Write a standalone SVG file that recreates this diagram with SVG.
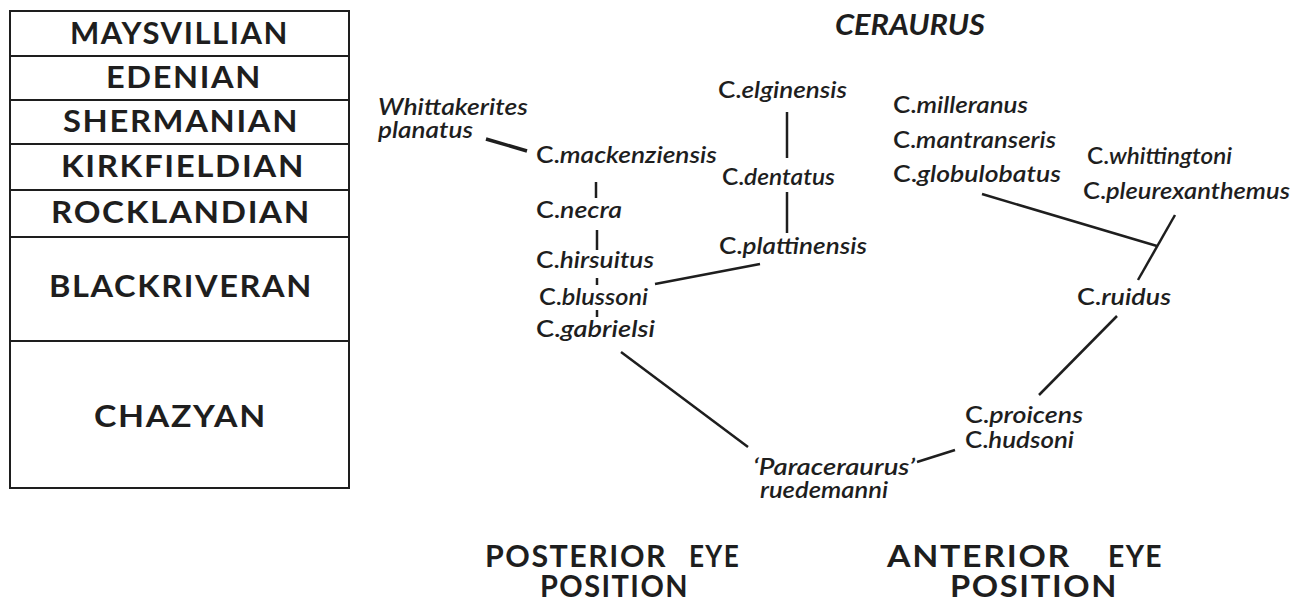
<svg xmlns="http://www.w3.org/2000/svg" width="1305" height="603" viewBox="0 0 1305 603">
<style>
  .cap { font-family: Lato, "Liberation Sans", sans-serif; font-weight: 700; font-size: 30px; letter-spacing: 1.5px; fill: #1e1e1e; }
  .title { font-family: Lato, "Liberation Sans", sans-serif; font-weight: 700; font-style: italic; font-size: 29px; fill: #1e1e1e; }
  .lbl { font-family: Lato, "Liberation Sans", sans-serif; font-weight: 600; font-size: 22px; fill: #1e1e1e; }
  .it { font-style: italic; }
  .ln { stroke: #1e1e1e; stroke-width: 2.5; stroke-linecap: butt; fill: none; }
  .tbl { stroke: #1e1e1e; stroke-width: 2; fill: none; }
</style>
<rect width="1305" height="603" fill="#ffffff"/>

<g id="stages">
  <rect class="tbl" x="10" y="11" width="339" height="477"/>
  <line class="tbl" x1="10" y1="56" x2="349" y2="56"/>
  <line class="tbl" x1="10" y1="100" x2="349" y2="100"/>
  <line class="tbl" x1="10" y1="144" x2="349" y2="144"/>
  <line class="tbl" x1="10" y1="190" x2="349" y2="190"/>
  <line class="tbl" x1="10" y1="237" x2="349" y2="237"/>
  <line class="tbl" x1="10" y1="341" x2="349" y2="341"/>
  <text class="cap" x="70" y="44" textLength="219" lengthAdjust="spacingAndGlyphs">MAYSVILLIAN</text>
  <text class="cap" x="106" y="88" textLength="156" lengthAdjust="spacingAndGlyphs">EDENIAN</text>
  <text class="cap" x="63" y="132" textLength="236" lengthAdjust="spacingAndGlyphs">SHERMANIAN</text>
  <text class="cap" x="61" y="177" textLength="244" lengthAdjust="spacingAndGlyphs">KIRKFIELDIAN</text>
  <text class="cap" x="51" y="223" textLength="260" lengthAdjust="spacingAndGlyphs">ROCKLANDIAN</text>
  <text class="cap" x="49" y="297" textLength="264" lengthAdjust="spacingAndGlyphs">BLACKRIVERAN</text>
  <text class="cap" x="94" y="427" textLength="173" lengthAdjust="spacingAndGlyphs">CHAZYAN</text>
</g>

<g id="title">
  <text class="title" x="835" y="35" textLength="150" lengthAdjust="spacingAndGlyphs">CERAURUS</text>
</g>

<g id="connectors">
  <line class="ln" x1="486" y1="139" x2="527" y2="151" style="stroke-width:3.5"/>
  <line class="ln" x1="596" y1="182" x2="596" y2="198"/>
  <line class="ln" x1="597" y1="230" x2="597" y2="250"/>
  <line class="ln" x1="597" y1="278" x2="597" y2="285"/>
  <line class="ln" x1="597" y1="310" x2="597" y2="317"/>
  <line class="ln" x1="655" y1="284" x2="760" y2="264"/>
  <line class="ln" x1="787" y1="112" x2="787" y2="158"/>
  <line class="ln" x1="787" y1="192" x2="787" y2="233"/>
  <line class="ln" x1="621" y1="352" x2="748" y2="447"/>
  <line class="ln" x1="917" y1="462" x2="955" y2="450"/>
  <line class="ln" x1="1039" y1="395" x2="1117" y2="316"/>
  <line class="ln" x1="1138" y1="280" x2="1175" y2="215"/>
  <line class="ln" x1="982" y1="194" x2="1157" y2="246"/>
</g>

<g id="whittakerites">
  <text class="lbl it" x="378" y="115" textLength="150" lengthAdjust="spacingAndGlyphs">Whittakerites</text>
  <text class="lbl it" x="378" y="138" textLength="95" lengthAdjust="spacingAndGlyphs">planatus</text>
</g>
<g id="mackenziensis"><text class="lbl" x="536" y="163" textLength="181" lengthAdjust="spacingAndGlyphs">C.<tspan class="it">mackenziensis</tspan></text></g>
<g id="necra"><text class="lbl" x="536" y="218" textLength="86" lengthAdjust="spacingAndGlyphs">C.<tspan class="it">necra</tspan></text></g>
<g id="hirsuitus"><text class="lbl" x="536" y="268" textLength="118" lengthAdjust="spacingAndGlyphs">C.<tspan class="it">hirsuitus</tspan></text></g>
<g id="blussoni"><text class="lbl" x="539" y="305" textLength="109" lengthAdjust="spacingAndGlyphs">C.<tspan class="it">blussoni</tspan></text></g>
<g id="gabrielsi"><text class="lbl" x="536" y="337" textLength="119" lengthAdjust="spacingAndGlyphs">C.<tspan class="it">gabrielsi</tspan></text></g>
<g id="elginensis"><text class="lbl" x="718" y="98" textLength="129" lengthAdjust="spacingAndGlyphs">C.<tspan class="it">elginensis</tspan></text></g>
<g id="dentatus"><text class="lbl" x="722" y="185" textLength="113" lengthAdjust="spacingAndGlyphs">C.<tspan class="it">dentatus</tspan></text></g>
<g id="plattinensis"><text class="lbl" x="719" y="254" textLength="148" lengthAdjust="spacingAndGlyphs">C.<tspan class="it">plattinensis</tspan></text></g>
<g id="milleranus"><text class="lbl" x="893" y="113" textLength="135" lengthAdjust="spacingAndGlyphs">C.<tspan class="it">milleranus</tspan></text></g>
<g id="mantranseris"><text class="lbl" x="893" y="148" textLength="163" lengthAdjust="spacingAndGlyphs">C.<tspan class="it">mantranseris</tspan></text></g>
<g id="globulobatus"><text class="lbl" x="893" y="182" textLength="168" lengthAdjust="spacingAndGlyphs">C.<tspan class="it">globulobatus</tspan></text></g>
<g id="whittingtoni"><text class="lbl" x="1087" y="164" textLength="145" lengthAdjust="spacingAndGlyphs">C.<tspan class="it">whittingtoni</tspan></text></g>
<g id="pleurexanthemus"><text class="lbl" x="1083" y="199" textLength="207" lengthAdjust="spacingAndGlyphs">C.<tspan class="it">pleurexanthemus</tspan></text></g>
<g id="ruidus"><text class="lbl" x="1077" y="305" textLength="94" lengthAdjust="spacingAndGlyphs">C.<tspan class="it">ruidus</tspan></text></g>
<g id="proicens"><text class="lbl" x="965" y="423" textLength="118" lengthAdjust="spacingAndGlyphs">C.<tspan class="it">proicens</tspan></text></g>
<g id="hudsoni"><text class="lbl" x="965" y="448" textLength="109" lengthAdjust="spacingAndGlyphs">C.<tspan class="it">hudsoni</tspan></text></g>
<g id="paraceraurus">
  <text class="lbl it" x="753" y="475" textLength="162" lengthAdjust="spacingAndGlyphs">‘Paraceraurus’</text>
  <text class="lbl it" x="760" y="498" textLength="128" lengthAdjust="spacingAndGlyphs">ruedemanni</text>
</g>

<g id="posterior">
  <text class="cap" x="485" y="567" textLength="182" lengthAdjust="spacingAndGlyphs">POSTERIOR</text>
  <text class="cap" x="689" y="567" textLength="51" lengthAdjust="spacingAndGlyphs">EYE</text>
  <text class="cap" x="540" y="597" textLength="149" lengthAdjust="spacingAndGlyphs">POSITION</text>
</g>
<g id="anterior">
  <text class="cap" x="887" y="567" textLength="184" lengthAdjust="spacingAndGlyphs">ANTERIOR</text>
  <text class="cap" x="1108" y="567" textLength="55" lengthAdjust="spacingAndGlyphs">EYE</text>
  <text class="cap" x="950" y="597" textLength="168" lengthAdjust="spacingAndGlyphs">POSITION</text>
</g>
</svg>
